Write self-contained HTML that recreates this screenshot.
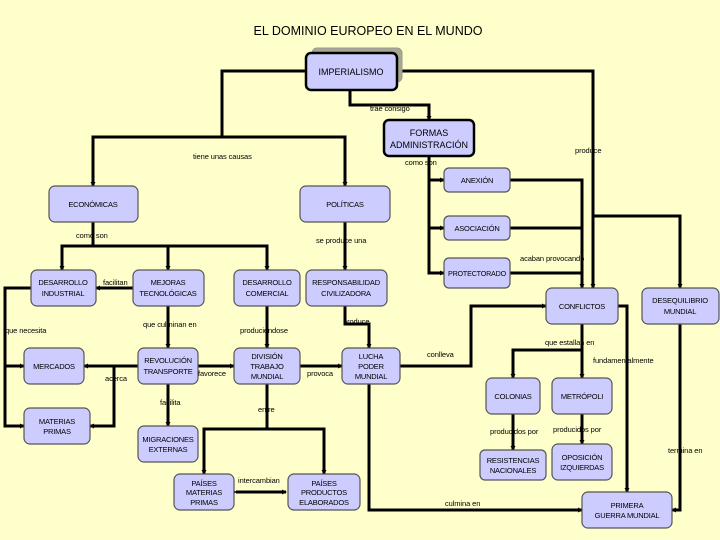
<!DOCTYPE html>
<html><head><meta charset="utf-8"><style>
html,body{margin:0;padding:0;background:#ffffcc;}
svg{display:block;font-family:"Liberation Sans","DejaVu Sans",sans-serif;}
.n{fill:#ccccff;stroke:#555;stroke-width:1.2;}
.l{fill:none;stroke:#000;stroke-width:3;}
.t{font-size:7.5px;fill:#000;text-anchor:middle;letter-spacing:-0.2px;}
.s{font-size:7.5px;fill:#000;letter-spacing:-0.1px;}
</style></head><body>
<svg width="720" height="540" viewBox="0 0 720 540">
<defs><marker id="a" markerWidth="5" markerHeight="5" refX="4" refY="2.5" orient="auto" markerUnits="userSpaceOnUse"><path d="M0,0L5,2.5L0,5z" fill="#000"/></marker></defs>
<rect width="720" height="540" fill="#ffffcc"/>
<text x="368" y="35" font-size="12.5" text-anchor="middle" fill="#000">EL DOMINIO EUROPEO EN EL MUNDO</text>

<g class="l">
<path d="M306 71H222V137H93V186" marker-end="url(#a)"/>
<path d="M222 137H345V186" marker-end="url(#a)"/>
<path d="M350 90V105H429V120" marker-end="url(#a)"/>
<path d="M397 71H593V288" marker-end="url(#a)"/>
<path d="M593 216H680V288" marker-end="url(#a)"/>
<path d="M429 156V273H444" marker-end="url(#a)"/>
<path d="M429 180H444" marker-end="url(#a)"/>
<path d="M429 228H444" marker-end="url(#a)"/>
<path d="M510 180H582V288" marker-end="url(#a)"/>
<path d="M510 228H582"/>
<path d="M510 273H582"/>
<path d="M345 222V270" marker-end="url(#a)"/>
<path d="M93 222V246H62V270" marker-end="url(#a)"/>
<path d="M93 246H267V270" marker-end="url(#a)"/>
<path d="M168 246V270" marker-end="url(#a)"/>
<path d="M133 288H96" marker-end="url(#a)"/>
<path d="M31 288H5V426H24" marker-end="url(#a)"/>
<path d="M5 366H24" marker-end="url(#a)"/>
<path d="M138 366H84" marker-end="url(#a)"/>
<path d="M114 366V426H90" marker-end="url(#a)"/>
<path d="M168 306V348" marker-end="url(#a)"/>
<path d="M198 366H234" marker-end="url(#a)"/>
<path d="M267 306V348" marker-end="url(#a)"/>
<path d="M300 366H342" marker-end="url(#a)"/>
<path d="M345 306V324H369V348" marker-end="url(#a)"/>
<path d="M168 384V426" marker-end="url(#a)"/>
<path d="M267 384V429H204V474" marker-end="url(#a)"/>
<path d="M267 429H324V474" marker-end="url(#a)"/>
<path d="M236 492H286" marker-end="url(#a)" marker-start="url(#a)"/>
<path d="M369 384V510H582" marker-end="url(#a)"/>
<path d="M400 366H471V306H546" marker-end="url(#a)"/>
<path d="M582 324V350H513V378" marker-end="url(#a)"/>
<path d="M582 350V378" marker-end="url(#a)"/>
<path d="M618 306H627V492" marker-end="url(#a)"/>
<path d="M513 414V450" marker-end="url(#a)"/>
<path d="M582 414V444" marker-end="url(#a)"/>
<path d="M680 324V510H672" marker-end="url(#a)"/>
</g>

<rect x="312" y="48" width="90" height="34" rx="5" fill="#a8a890" stroke="#999"/>
<rect x="306" y="53" width="91" height="37" rx="5" class="n" style="stroke:#000;stroke-width:2.5"/>
<text x="351" y="75" font-size="9" text-anchor="middle">IMPERIALISMO</text>
<rect x="384" y="120" width="90" height="36" rx="5" class="n" style="stroke:#000;stroke-width:2.5"/>
<text x="429" y="136" font-size="9" text-anchor="middle">FORMAS</text>
<text x="429" y="148" font-size="9" text-anchor="middle">ADMINISTRACIÓN</text>

<g>
<rect x="444" y="168" width="66" height="24" rx="5" class="n"/><text class="t" x="477" y="183">ANEXIÓN</text>
<rect x="444" y="216" width="66" height="24" rx="5" class="n"/><text class="t" x="477" y="231">ASOCIACIÓN</text>
<rect x="444" y="258" width="66" height="30" rx="5" class="n"/><text class="t" x="477" y="276" textLength="58" lengthAdjust="spacingAndGlyphs">PROTECTORADO</text>
<rect x="49" y="186" width="89" height="36" rx="6" class="n"/><text class="t" x="93" y="207">ECONÓMICAS</text>
<rect x="300" y="186" width="90" height="36" rx="6" class="n"/><text class="t" x="345" y="207">POLÍTICAS</text>
<rect x="31" y="270" width="65" height="36" rx="6" class="n"/><text class="t" x="63" y="285">DESARROLLO</text><text class="t" x="63" y="296">INDUSTRIAL</text>
<rect x="133" y="270" width="71" height="36" rx="6" class="n"/><text class="t" x="168" y="285">MEJORAS</text><text class="t" x="168" y="296">TECNOLÓGICAS</text>
<rect x="234" y="270" width="66" height="36" rx="6" class="n"/><text class="t" x="267" y="285">DESARROLLO</text><text class="t" x="267" y="296">COMERCIAL</text>
<rect x="306" y="270" width="81" height="36" rx="6" class="n"/><text class="t" x="346" y="285">RESPONSABILIDAD</text><text class="t" x="346" y="296">CIVILIZADORA</text>
<rect x="24" y="348" width="60" height="36" rx="6" class="n"/><text class="t" x="54" y="369">MERCADOS</text>
<rect x="138" y="348" width="60" height="36" rx="6" class="n"/><text class="t" x="168" y="363">REVOLUCIÓN</text><text class="t" x="168" y="374">TRANSPORTE</text>
<rect x="234" y="348" width="66" height="36" rx="6" class="n"/><text class="t" x="267" y="359">DIVISIÓN</text><text class="t" x="267" y="369">TRABAJO</text><text class="t" x="267" y="379">MUNDIAL</text>
<rect x="342" y="348" width="58" height="36" rx="6" class="n"/><text class="t" x="371" y="359">LUCHA</text><text class="t" x="371" y="369">PODER</text><text class="t" x="371" y="379">MUNDIAL</text>
<rect x="24" y="408" width="66" height="36" rx="6" class="n"/><text class="t" x="57" y="424">MATERIAS</text><text class="t" x="57" y="434">PRIMAS</text>
<rect x="138" y="426" width="60" height="36" rx="6" class="n"/><text class="t" x="168" y="442">MIGRACIONES</text><text class="t" x="168" y="452">EXTERNAS</text>
<rect x="174" y="474" width="60" height="36" rx="6" class="n"/><text class="t" x="204" y="486">PAÍSES</text><text class="t" x="204" y="495">MATERIAS</text><text class="t" x="204" y="505">PRIMAS</text>
<rect x="288" y="474" width="72" height="36" rx="6" class="n"/><text class="t" x="324" y="486">PAÍSES</text><text class="t" x="324" y="495">PRODUCTOS</text><text class="t" x="324" y="505">ELABORADOS</text>
<rect x="546" y="288" width="72" height="36" rx="6" class="n"/><text class="t" x="582" y="309">CONFLICTOS</text>
<rect x="642" y="288" width="77" height="36" rx="6" class="n"/><text class="t" x="680" y="303">DESEQUILIBRIO</text><text class="t" x="680" y="314">MUNDIAL</text>
<rect x="486" y="378" width="54" height="36" rx="6" class="n"/><text class="t" x="513" y="399">COLONIAS</text>
<rect x="552" y="378" width="60" height="36" rx="6" class="n"/><text class="t" x="582" y="399">METRÓPOLI</text>
<rect x="480" y="450" width="66" height="30" rx="5" class="n"/><text class="t" x="513" y="463">RESISTENCIAS</text><text class="t" x="513" y="473">NACIONALES</text>
<rect x="552" y="444" width="60" height="36" rx="6" class="n"/><text class="t" x="582" y="460">OPOSICIÓN</text><text class="t" x="582" y="470">IZQUIERDAS</text>
<rect x="582" y="492" width="90" height="36" rx="6" class="n"/><text class="t" x="627" y="508">PRIMERA</text><text class="t" x="627" y="518">GUERRA MUNDIAL</text>
</g>

<g class="s">
<text x="370" y="111">trae consigo</text>
<text x="575" y="153">produce</text>
<text x="193" y="159">tiene unas causas</text>
<text x="405" y="165">como son</text>
<text x="76" y="238">como son</text>
<text x="316" y="243">se produce una</text>
<text x="520" y="261">acaban provocando</text>
<text x="103" y="285">facilitan</text>
<text x="5" y="333">que necesita</text>
<text x="143" y="327">que culminan en</text>
<text x="240" y="333">produciéndose</text>
<text x="343" y="324">produce</text>
<text x="545" y="345">que estallan en</text>
<text x="427" y="357">conlleva</text>
<text x="593" y="363">fundamentalmente</text>
<text x="198" y="376">favorece</text>
<text x="105" y="381">acerca</text>
<text x="307" y="376">provoca</text>
<text x="160" y="405">facilita</text>
<text x="258" y="412">entre</text>
<text x="490" y="434">producidos por</text>
<text x="553" y="432">producidos por</text>
<text x="668" y="453">termina en</text>
<text x="238" y="483">intercambian</text>
<text x="445" y="506">culmina en</text>
</g>
</svg>
</body></html>
